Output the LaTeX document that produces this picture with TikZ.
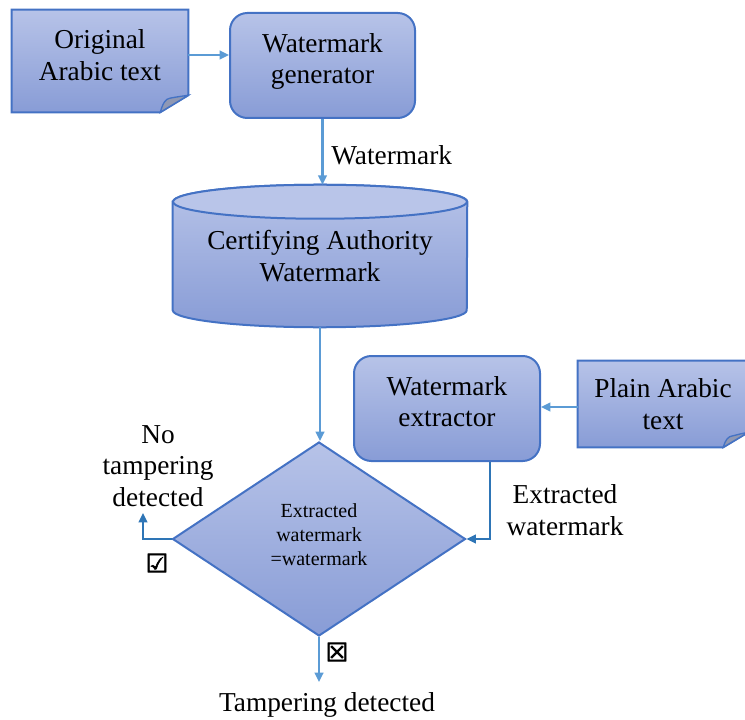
\documentclass[tikz,border=0pt]{standalone}
\usepackage{fontspec}
\setmainfont{Liberation Serif}
\newfontfamily\symfont[FakeBold=2.5]{DejaVu Sans Bold}
\usetikzlibrary{shapes.geometric,arrows.meta,backgrounds}
\definecolor{fillTop}{HTML}{B7C3E8}
\definecolor{fillBot}{HTML}{889CD6}
\definecolor{topEll}{HTML}{B9C5E9}
\definecolor{edge}{HTML}{4472C4}
\definecolor{arrowA}{HTML}{5B9BD5}
\definecolor{arrowB}{HTML}{2E75B6}
\definecolor{foldc}{HTML}{8F98B4}
\newcommand\mainsize{\fontsize{20.5}{23.5}\selectfont}
\newcommand\smallsize{\fontsize{15}{18}\selectfont}
\begin{document}
\begin{tikzpicture}[x=0.75pt,y=-0.75pt,
  box/.style={draw=edge, line width=1.5pt, top color=fillTop, bottom color=fillBot,
    rounded corners=13pt, align=center, font=\mainsize, inner sep=0pt, text depth=10pt},
  docnode/.style={align=center, font=\mainsize, inner sep=0pt},
  shapeedge/.style={draw=edge, line width=1.5pt, top color=fillTop, bottom color=fillBot},
  arrA/.style={draw=arrowA, line width=1.6pt, -{Triangle[length=7pt,width=6.5pt]}},
  arrB/.style={draw=arrowB, line width=1.6pt, -{Triangle[length=7pt,width=6.5pt]}},
  lbl/.style={font=\mainsize, align=center, inner sep=0pt}]
\clip (0,0) rectangle (745,720);

% nodes
\node[docnode, minimum width=132pt, minimum height=67.5pt] (orig) at (100,55) {Original\\Arabic text};
\node[box, minimum width=138.75pt, minimum height=78.75pt] (gen) at (322.5,65.5) {Watermark\\generator};
\node[docnode, minimum width=220.5pt, minimum height=106.5pt] (cyl) at (320,256) {Certifying Authority\\Watermark};
\node[box, minimum width=139.5pt, minimum height=78.75pt] (ext) at (447,408.5) {Watermark\\extractor};
\node[docnode, minimum width=127.5pt, minimum height=64.5pt] (plain) at (663,404) {Plain Arabic\\text};
\node[diamond, shapeedge, minimum width=219.75pt, minimum height=145.5pt, inner sep=0pt,
  align=center, font=\smallsize, text depth=6pt] (dia) at (319,539) {Extracted\\watermark\\=watermark};

% background shapes
\begin{scope}[on background layer]
  % original document
  \path[shapeedge] (orig.north west) -- (orig.north east) -- ([yshift=3.75pt]orig.south east)
    -- ([xshift=-21pt,yshift=-9pt]orig.south east) -- ([yshift=-9pt]orig.south west) -- cycle;
  \path[draw=edge, line width=1pt, fill=foldc] ([xshift=-21pt,yshift=-9pt]orig.south east)
    .. controls ([xshift=-19pt,yshift=-2pt]orig.south east) and ([xshift=-17pt,yshift=1pt]orig.south east)
    .. ([xshift=-14pt,yshift=1.5pt]orig.south east)
    .. controls ([xshift=-9pt,yshift=2.5pt]orig.south east) and ([xshift=-5pt,yshift=3pt]orig.south east)
    .. ([yshift=3.75pt]orig.south east) -- cycle;
  % plain document
  \path[shapeedge] (plain.north west) -- (plain.north east) -- ([yshift=11.25pt]plain.south east)
    -- ([xshift=-18.75pt]plain.south east) -- (plain.south west) -- cycle;
  \path[draw=edge, line width=1pt, fill=foldc] ([xshift=-18.75pt]plain.south east)
    .. controls ([xshift=-17pt,yshift=6pt]plain.south east) and ([xshift=-15pt,yshift=8pt]plain.south east)
    .. ([xshift=-12pt,yshift=8.5pt]plain.south east)
    .. controls ([xshift=-8pt,yshift=9.5pt]plain.south east) and ([xshift=-4pt,yshift=10.5pt]plain.south east)
    .. ([yshift=11.25pt]plain.south east) -- cycle;
  % cylinder
  \path[shapeedge] ([yshift=-12.75pt]cyl.north west) -- ([yshift=12.75pt]cyl.south west)
    arc[start angle=180, end angle=360, x radius=110.25pt, y radius=12.75pt]
    -- ([yshift=-12.75pt]cyl.north east)
    arc[start angle=0, end angle=180, x radius=110.25pt, y radius=12.75pt] -- cycle;
  \path[draw=edge, line width=1.5pt, fill=topEll] ([yshift=-12.75pt]cyl.north)
    ellipse[x radius=110.25pt, y radius=12.75pt];
\end{scope}

% connectors
\draw[arrA] (orig.east) -- (orig.east -| gen.west);
\draw[arrA] (gen.south) -- (gen.south |- cyl.north);
\draw[arrA] (cyl.south) -- (cyl.south |- dia.north);
\draw[arrA] ([yshift=-2.25pt]plain.west) coordinate (pw) -- (pw -| ext.east);
\draw[arrB] ([xshift=32.25pt]ext.south) |- (dia.east);
\coordinate (nt) at (143,513);
\draw[arrB] (dia.west) -| (nt);
\coordinate (td) at (319,682);
\draw[arrA] (dia.south) -- (td);

% labels
\node[lbl, anchor=west] (wmlbl) at (331,155) {Watermark};
\node[lbl] (exlbl) at (565,510) {Extracted\\watermark};
\node[lbl] (notamp) at (158,466) {No\\tampering\\detected};
\node[inner sep=0pt, font=\symfont\fontsize{19}{19}\selectfont] (chk) at (157,563) {☑};
\node[inner sep=0pt, font=\symfont\fontsize{19}{19}\selectfont] (crs) at (337,652) {☒};
\node[lbl] (tamp) at (327,705) {Tampering detected};
\end{tikzpicture}
\end{document}
